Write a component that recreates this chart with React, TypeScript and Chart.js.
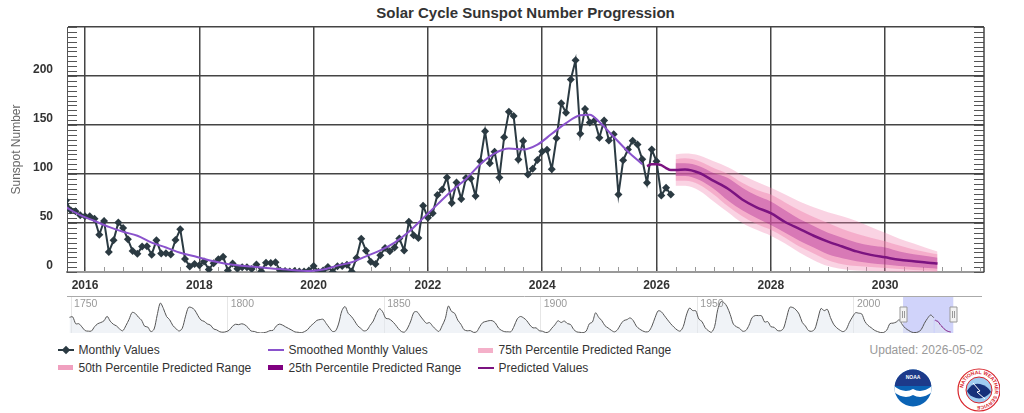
import React, { useEffect, useRef } from 'react';
import { Chart, registerables } from 'chart.js';

Chart.register(...registerables);

const FONT = '"Liberation Sans", Arial, Helvetica, sans-serif';
Chart.defaults.font.family = FONT;

// ---------- DATA ----------
// Monthly values, first month = Sep 2015, last = Apr 2026
const monthlyStartYear = 2015;
const monthlyStartMonth = 9;
const monthlyValues = [
  73, 63, 62, 58,
  57, 57, 54.4, 38, 52, 20.5, 32.3, 50.6, 44.8, 33.4, 21.4, 18.5,
  26.1, 26.4, 17.7, 32.3, 18.9, 19.2, 17.8, 32.6, 43.6, 13.2, 5.7, 8.2,
  6.8, 10.7, 2.5, 8.9, 13.1, 15.6, 1.6, 8.7, 3.3, 4.9, 4.9, 3.1,
  7.7, 0.8, 9.4, 9.1, 9.9, 1.2, 0.9, 0.5, 1.1, 0.4, 0.5, 1.5,
  6.2, 0.2, 1.5, 5.2, 0.2, 5.8, 6.1, 7.5, 0.6, 14.4, 34.0, 21.8,
  10.4, 8.2, 17.2, 24.5, 21.2, 25.0, 34.3, 22.0, 51.3, 37.4, 34.8, 67.5,
  55.3, 59.9, 78.5, 84.1, 96.5, 70.5, 91.4, 74.6, 96.0, 95.5, 77.6, 113.1,
  143.6, 110.9, 122.8, 96.4, 137.4, 163.4, 159.1, 114.8, 133.6, 99.4, 105.4, 114.2,
  123.0, 124.7, 104.9, 136.5, 172.1, 162.4, 196.5, 216.0, 141.1, 166.4, 152.5, 154.5,
  137.0, 154.6, 134.2, 140.6, 79.0, 114.0, 125.0, 134.0, 130.0, 115.0, 91.0, 125.0,
  113.0, 78.0, 86.0, 79.0,
];

// Smoothed monthly values (decimal year, value)
const smoothedX = [
  2015.667, 2015.917, 2016.167, 2016.417, 2016.667, 2016.917, 2017.167, 2017.417, 2017.667, 2017.917,
  2018.167, 2018.417, 2018.667, 2018.917, 2019.167, 2019.417, 2019.667, 2019.917, 2020.167, 2020.417,
  2020.667, 2020.917, 2021.167, 2021.417, 2021.667, 2021.917, 2022.167, 2022.417, 2022.667, 2022.917,
  2023.167, 2023.417, 2023.667, 2023.917, 2024.167, 2024.417, 2024.667, 2024.833, 2025.0, 2025.25,
  2025.5, 2025.75,
];
const smoothedY = [
  66, 58, 52, 46, 41, 37, 30, 25, 19.6, 16,
  12, 9, 7, 5.5, 4, 3, 1.8, 1, 2.5, 6.5,
  10, 16, 22, 30, 41, 55, 69, 83, 95, 110,
  121, 126, 125, 130, 141, 152, 160, 160.5, 153, 138,
  123, 110,
];

// Predicted values (decimal year, value)
const predictedX = [
  2025.833, 2025.917, 2026.0, 2026.083, 2026.167, 2026.25, 2026.333, 2026.5, 2026.75, 2027.0,
  2027.25, 2027.5, 2027.75, 2028.0, 2028.25, 2028.5, 2028.75, 2029.0, 2029.25, 2029.5,
  2029.75, 2030.0, 2030.25, 2030.5, 2030.75, 2030.917,
];
const predictedY = [
  108, 110, 110, 109, 106, 104, 104, 104.5, 101, 93,
  85, 74, 66, 60, 51, 44, 37, 31, 26, 21,
  17.5, 15, 12.5, 11, 9.5, 8.7,
];

// Predicted ranges
const rangeX = [
  2026.333, 2026.5, 2026.75, 2027.0, 2027.25, 2027.5, 2027.75, 2028.0, 2028.25, 2028.5,
  2028.75, 2029.0, 2029.25, 2029.5, 2029.75, 2030.0, 2030.25, 2030.5, 2030.75, 2030.917,
];
const p75Upper = [120, 121, 119, 113, 107, 99, 92, 86, 79, 72, 66, 61, 57, 52, 46, 40, 34, 29, 24, 21];
const p75Lower = [88, 88, 83, 72, 61, 50, 43, 37, 29, 20, 12, 6, 3, 1.5, 1, 0.5, 0, 0, 0, 0];
const p50Upper = [115, 116, 113, 106, 100, 91, 84, 79, 71, 63, 56, 50, 44, 39, 35, 31.5, 27, 23, 20, 18];
const p50Lower = [93, 93, 89, 79, 67, 57, 49, 43, 35, 26, 19, 12, 8, 6, 5, 4, 3, 2, 1.5, 1];
const p25Upper = [111, 111, 108, 101, 96, 86, 78, 72, 63, 54, 47, 40, 35, 30, 27, 25, 21, 18, 16, 14.5];
const p25Lower = [98, 98, 94, 85, 73, 63, 55, 48, 40, 32, 25, 18, 14, 11, 9, 7.6, 6, 5, 4, 3.3];

// Navigator: yearly sunspot numbers from 1749
const navStartYear = 1749;
const navYearly = [
  134.7, 139.0, 79.5, 79.7, 51.2, 20.3, 16.0, 17.0, 54.0, 79.3, 90.0,
  104.8, 143.2, 102.0, 75.2, 60.7, 34.8, 19.0, 63.0, 116.3, 176.8,
  168.0, 136.0, 110.8, 58.0, 51.0, 11.7, 33.0, 154.2, 257.3, 209.8,
  141.3, 113.5, 64.2, 38.0, 17.0, 40.2, 138.2, 220.0, 218.2, 196.8,
  149.8, 111.0, 100.0, 78.2, 68.3, 35.5, 26.7, 10.7, 6.8, 11.3,
  24.2, 56.7, 75.0, 71.8, 79.2, 70.3, 46.8, 16.8, 13.5, 4.2,
  0.0, 2.3, 8.3, 20.3, 23.2, 59.0, 76.3, 68.3, 52.9, 38.5,
  24.2, 9.2, 6.3, 2.2, 11.4, 28.2, 59.9, 83.0, 108.5, 115.2,
  117.4, 80.8, 44.3, 13.4, 19.5, 85.8, 192.7, 227.3, 168.7, 143.0,
  105.5, 63.3, 40.3, 18.1, 25.1, 65.8, 102.7, 166.3, 208.3, 182.5,
  126.3, 122.0, 102.7, 74.1, 39.0, 12.7, 8.2, 43.4, 104.4, 178.3,
  182.2, 146.6, 112.1, 83.5, 89.2, 57.8, 30.7, 13.9, 62.8, 123.6,
  232.0, 185.3, 169.2, 110.1, 74.5, 28.3, 18.9, 20.7, 5.7, 10.0,
  53.7, 90.5, 99.0, 106.1, 105.8, 86.3, 42.4, 21.8, 11.2, 10.4,
  11.8, 59.5, 121.7, 142.0, 130.0, 106.6, 69.4, 43.8, 44.4, 20.2,
  15.7, 4.6, 8.5, 40.8, 70.1, 105.5, 90.1, 102.8, 80.9, 73.2,
  30.9, 9.5, 6.0, 2.4, 16.1, 79.0, 95.0, 173.6, 134.6, 105.7,
  62.7, 43.5, 23.7, 9.7, 27.9, 74.0, 106.5, 114.7, 129.7, 108.2,
  59.4, 35.1, 18.6, 9.2, 14.6, 60.2, 132.8, 190.6, 182.6, 148.0,
  113.0, 79.2, 50.8, 27.1, 16.1, 55.3, 154.3, 214.7, 193.0, 190.7,
  118.9, 98.3, 45.0, 20.1, 6.6, 54.2, 200.7, 269.3, 261.7, 225.1,
  159.0, 76.4, 53.4, 39.9, 15.0, 22.0, 66.8, 132.9, 150.0, 149.4,
  148.0, 94.4, 97.6, 54.1, 49.2, 22.5, 18.4, 39.3, 131.0, 220.1,
  218.9, 198.9, 162.4, 91.0, 60.5, 20.6, 14.8, 33.9, 123.0, 211.1,
  191.8, 203.3, 133.0, 76.1, 44.9, 25.1, 11.6, 28.9, 88.3, 136.3,
  173.9, 170.4, 163.6, 99.3, 65.3, 45.8, 24.7, 12.6, 4.2, 4.8,
  24.9, 80.8, 84.5, 94.0, 113.3, 69.8, 39.8, 21.7, 7.0, 3.6,
  8.8, 29.6, 83.2, 125.5, 154.7, 131.6,
];

const updatedText = 'Updated: 2026-05-02';
const titleText = 'Solar Cycle Sunspot Number Progression';

// ---------- COLORS ----------
const C_MONTHLY = '#2b3a42';
const C_SMOOTH = '#8a52cc';
const C_PRED = '#7b1380';
const C_75 = 'rgba(240,130,175,0.35)';
const C_50 = 'rgba(240,130,175,0.45)';
const C_25 = 'rgba(160,20,140,0.35)';

const pts = (xs: number[], ys: number[]) => xs.map((x, i) => ({ x, y: ys[i] }));

const mainDecor = {
  id: 'mainDecor',
  beforeDatasetsDraw(chart: any) {
    const { ctx, chartArea, scales } = chart;
    const { left, right, top, bottom } = chartArea;
    const x = scales.x;
    const y = scales.y;
    ctx.save();
    ctx.lineWidth = 1;
    ctx.strokeStyle = '#555';
    for (let v = 0; v <= 250; v += 5) {
      const py = Math.round(y.getPixelForValue(v)) + 0.5;
      ctx.beginPath();
      ctx.moveTo(left, py);
      ctx.lineTo(left + 10, py);
      ctx.moveTo(right - 10, py);
      ctx.lineTo(right, py);
      ctx.stroke();
    }
    ctx.strokeStyle = '#999';
    for (let k = Math.ceil(x.min * 3); k <= Math.floor(x.max * 3); k++) {
      const px = Math.round(x.getPixelForValue(k / 3)) + 0.5;
      ctx.beginPath();
      ctx.moveTo(px, bottom);
      ctx.lineTo(px, bottom - 5);
      ctx.stroke();
    }
    ctx.strokeStyle = '#444';
    ctx.lineWidth = 1.5;
    ctx.beginPath();
    ctx.moveTo(right, top);
    ctx.lineTo(right, bottom);
    ctx.stroke();
    ctx.restore();
  },
};

const navDecor = {
  id: 'navDecor',
  beforeDatasetsDraw(chart: any) {
    const { ctx, chartArea, scales } = chart;
    const x = scales.x;
    ctx.save();
    const x0 = x.getPixelForValue(2015.685);
    const x1 = x.getPixelForValue(2031.73);
    ctx.fillStyle = 'rgba(100,110,240,0.3)';
    ctx.fillRect(x0, chartArea.top, x1 - x0, chartArea.bottom - chartArea.top);
    ctx.restore();
  },
  afterDraw(chart: any) {
    const { ctx, chartArea, scales } = chart;
    const x = scales.x;
    ctx.save();
    ctx.strokeStyle = '#aaa';
    ctx.lineWidth = 1;
    ctx.beginPath();
    ctx.moveTo(chartArea.left, chartArea.top + 0.5);
    ctx.lineTo(chartArea.right, chartArea.top + 0.5);
    ctx.stroke();
    ctx.fillStyle = '#999';
    ctx.font = '10.5px ' + FONT;
    ctx.textBaseline = 'middle';
    ctx.textAlign = 'left';
    for (let v = 1750; v <= 2000; v += 50) {
      ctx.fillText(String(v), x.getPixelForValue(v) + 3, chartArea.top + 8);
    }
    const hy = chartArea.top + 11;
    [2015.685, 2031.73].forEach((val) => {
      const hx = Math.round(x.getPixelForValue(val)) + 0.5;
      ctx.fillStyle = '#f2f2f2';
      ctx.strokeStyle = '#999';
      ctx.beginPath();
      ctx.rect(hx - 3.5, hy, 7, 15);
      ctx.fill();
      ctx.stroke();
      ctx.beginPath();
      ctx.moveTo(hx - 1, hy + 4);
      ctx.lineTo(hx - 1, hy + 11);
      ctx.moveTo(hx + 1, hy + 4);
      ctx.lineTo(hx + 1, hy + 11);
      ctx.stroke();
    });
    ctx.restore();
  },
};

function band(label: string, upper: number[], lower: number[], color: string, order: number) {
  return [
    {
      label,
      data: pts(rangeX, upper),
      fill: '+1',
      backgroundColor: color,
      borderColor: 'rgba(0,0,0,0)',
      borderWidth: 0,
      pointRadius: 0,
      cubicInterpolationMode: 'monotone',
      order,
    },
    {
      label: label + ' (lower)',
      data: pts(rangeX, lower),
      fill: false,
      borderColor: 'rgba(0,0,0,0)',
      borderWidth: 0,
      pointRadius: 0,
      cubicInterpolationMode: 'monotone',
      order,
    },
  ];
}

const legendItems = [
  { label: 'Monthly Values', kind: 'marker', color: C_MONTHLY, col: 0, row: 0 },
  { label: 'Smoothed Monthly Values', kind: 'line', color: C_SMOOTH, col: 1, row: 0 },
  { label: '75th Percentile Predicted Range', kind: 'rect', color: '#f4b0c9', col: 2, row: 0 },
  { label: '50th Percentile Predicted Range', kind: 'rect', color: '#f0a0bf', col: 0, row: 1 },
  { label: '25th Percentile Predicted Range', kind: 'rect', color: '#800080', col: 1, row: 1 },
  { label: 'Predicted Values', kind: 'line', color: C_PRED, col: 2, row: 1 },
];

export default function App() {
  const mainRef = useRef<HTMLCanvasElement>(null);
  const navRef = useRef<HTMLCanvasElement>(null);

  useEffect(() => {
    const monthlyX = monthlyValues.map((_, i) => monthlyStartYear + (monthlyStartMonth - 1 + i) / 12);
    const main = new Chart(mainRef.current as HTMLCanvasElement, {
      type: 'line',
      data: {
        datasets: [
          {
            label: 'Predicted Values',
            data: pts(predictedX, predictedY),
            borderColor: C_PRED,
            borderWidth: 2.5,
            pointRadius: 0,
            fill: false,
            cubicInterpolationMode: 'monotone',
            order: 1,
          },
          {
            label: 'Smoothed Monthly Values',
            data: pts(smoothedX, smoothedY),
            borderColor: C_SMOOTH,
            borderWidth: 2,
            pointRadius: 0,
            fill: false,
            cubicInterpolationMode: 'monotone',
            order: 2,
          },
          {
            label: 'Monthly Values',
            data: pts(monthlyX, monthlyValues),
            borderColor: C_MONTHLY,
            backgroundColor: C_MONTHLY,
            borderWidth: 2,
            pointStyle: 'rectRot',
            pointRadius: 4,
            pointBorderWidth: 0,
            fill: false,
            tension: 0,
            order: 3,
          },
          ...band('25th Percentile Predicted Range', p25Upper, p25Lower, C_25, 8),
          ...band('50th Percentile Predicted Range', p50Upper, p50Lower, C_50, 9),
          ...band('75th Percentile Predicted Range', p75Upper, p75Lower, C_75, 10),
        ] as any,
      },
      options: {
        animation: false,
        responsive: false,
        maintainAspectRatio: false,
        layout: { padding: { left: 0, right: 40, top: 27, bottom: 0 } },
        plugins: {
          legend: { display: false },
          tooltip: { enabled: false },
          title: { display: false },
        },
        scales: {
          x: {
            type: 'linear',
            min: 2015.685,
            max: 2031.73,
            afterFit: (s: any) => {
              s.height = 23;
            },
            ticks: {
              stepSize: 2,
              includeBounds: false,
              padding: 6,
              color: '#333',
              font: { size: 12, weight: 'bold' },
              maxRotation: 0,
              callback: (v: any) => String(v),
            },
            grid: { color: '#444', lineWidth: 1.5, drawTicks: false },
            border: { display: true, color: '#999', width: 2 },
          },
          y: {
            type: 'linear',
            min: 0,
            max: 250,
            afterFit: (s: any) => {
              s.width = 67;
            },
            ticks: {
              stepSize: 50,
              padding: 14,
              labelOffset: -6,
              color: '#333',
              font: { size: 12, weight: 'bold' },
              callback: (v: any) => (v === 250 ? '' : String(v)),
            },
            grid: {
              color: (c: any) => (c.tick && c.tick.value === 0 ? 'rgba(0,0,0,0)' : '#444'),
              lineWidth: 1.5,
              drawTicks: false,
            },
            border: { display: true, color: '#555', width: 1 },
            title: {
              display: true,
              text: 'Sunspot Number',
              color: '#666',
              font: { size: 12 },
              padding: { top: 9, bottom: 0 },
            },
          },
        },
      } as any,
      plugins: [mainDecor],
    });

    const navX = navYearly.map((_, i) => navStartYear + i + 0.5);
    const nav = new Chart(navRef.current as HTMLCanvasElement, {
      type: 'line',
      data: {
        datasets: [
          {
            label: 'Navigator',
            data: pts(navX, navYearly),
            borderColor: '#555',
            borderWidth: 1,
            backgroundColor: 'rgba(225,232,240,0.5)',
            fill: 'origin',
            pointRadius: 0,
            tension: 0.3,
          },
          {
            label: 'Navigator predicted',
            data: pts(predictedX, predictedY),
            borderColor: C_PRED,
            borderWidth: 1,
            backgroundColor: 'rgba(225,232,240,0.5)',
            fill: 'origin',
            pointRadius: 0,
            tension: 0.3,
          },
        ] as any,
      },
      options: {
        animation: false,
        responsive: false,
        maintainAspectRatio: false,
        layout: { padding: { left: 67, right: 42, top: 1, bottom: 2 } },
        plugins: { legend: { display: false }, tooltip: { enabled: false } },
        scales: {
          x: {
            type: 'linear',
            min: 1748.7,
            max: 2040.9,
            afterFit: (s: any) => {
              s.height = 0;
            },
            ticks: { display: false, stepSize: 50, includeBounds: false },
            grid: { color: '#e6e6e6', lineWidth: 1, drawTicks: false },
            border: { display: false },
          },
          y: { min: 0, max: 318, display: false },
        },
      } as any,
      plugins: [navDecor],
    });

    return () => {
      main.destroy();
      nav.destroy();
    };
  }, []);

  const colX = [57, 267, 477];
  const rowY = [350, 367.5];

  return (
    <div
      style={{
        position: 'absolute',
        left: 0,
        top: 0,
        width: 1024,
        height: 413,
        background: '#fff',
        fontFamily: FONT,
        overflow: 'hidden',
      }}
    >
      <div
        style={{
          position: 'absolute',
          left: 67,
          top: 4,
          width: 917,
          textAlign: 'center',
          fontSize: 15,
          fontWeight: 'bold',
          lineHeight: '18px',
          color: '#333',
        }}
      >
        {titleText}
      </div>
      <canvas
        ref={mainRef}
        width={1024}
        height={295}
        style={{ position: 'absolute', left: 0, top: 0, width: 1024, height: 295 }}
      />
      <canvas
        ref={navRef}
        width={1024}
        height={40}
        style={{ position: 'absolute', left: 0, top: 295, width: 1024, height: 40 }}
      />
      {legendItems.map((it) => {
        const x = colX[it.col];
        const y = rowY[it.row];
        return (
          <div key={it.label}>
            {it.kind === 'rect' ? (
              <div
                style={{
                  position: 'absolute',
                  left: x + 1,
                  top: y - 2.5,
                  width: 15,
                  height: 5,
                  background: it.color,
                }}
              />
            ) : (
              <div
                style={{
                  position: 'absolute',
                  left: x + 1,
                  top: y - 1,
                  width: 16,
                  height: 2,
                  background: it.color,
                }}
              />
            )}
            {it.kind === 'marker' && (
              <div
                style={{
                  position: 'absolute',
                  left: x + 6,
                  top: y - 3,
                  width: 6,
                  height: 6,
                  background: it.color,
                  transform: 'rotate(45deg)',
                }}
              />
            )}
            <div
              style={{
                position: 'absolute',
                left: x + 21.5,
                top: y - 7,
                fontSize: 12,
                lineHeight: '14px',
                color: '#333',
                whiteSpace: 'nowrap',
              }}
            >
              {it.label}
            </div>
          </div>
        );
      })}
      <div
        style={{
          position: 'absolute',
          right: 1024 - 983,
          top: 343,
          fontSize: 12,
          lineHeight: '14px',
          color: '#999',
          whiteSpace: 'nowrap',
        }}
      >
        {updatedText}
      </div>
      <svg
        width={110}
        height={50}
        viewBox="0 0 110 50"
        style={{ position: 'absolute', left: 890, top: 364 }}
      >
        <defs>
          <clipPath id="noaaClip">
            <circle cx="23" cy="24" r="18.5" />
          </clipPath>
          <path id="nwsRing" d="M 73 26 a 16 16 0 1 1 32 0 a 16 16 0 1 1 -32 0" />
        </defs>
        <g clipPath="url(#noaaClip)">
          <rect x="0" y="0" width="50" height="50" fill="#0b63b5" />
          <rect x="0" y="0" width="50" height="22" fill="#1d3a8a" />
          <path d="M 4 22 Q 14 30 23 25 Q 32 30 42 22 L 42 28 Q 32 36 23 31 Q 14 36 4 28 Z" fill="#ffffff" />
        </g>
        <text x="23" y="15" fontSize="5" fill="#ffffff" textAnchor="middle" fontFamily={FONT} fontWeight="bold">
          NOAA
        </text>
        <circle cx="89" cy="26" r="21" fill="#ffffff" stroke="#d8232a" strokeWidth="1.2" />
        <circle cx="89" cy="26" r="13" fill="#9ecbf0" stroke="#d8232a" strokeWidth="1" />
        <path d="M 77 27 Q 82 18 90 20 Q 98 22 101 28 Q 94 36 86 34 Q 79 32 77 27 Z" fill="#16307a" />
        <path d="M 83 19 L 90 27 L 87 28 L 95 35" stroke="#ffffff" strokeWidth="1" fill="none" />
        <text fontSize="5" fill="#d8232a" fontFamily={FONT} fontWeight="bold">
          <textPath href="#nwsRing" startOffset="2%">
            NATIONAL WEATHER SERVICE
          </textPath>
        </text>
      </svg>
    </div>
  );
}
